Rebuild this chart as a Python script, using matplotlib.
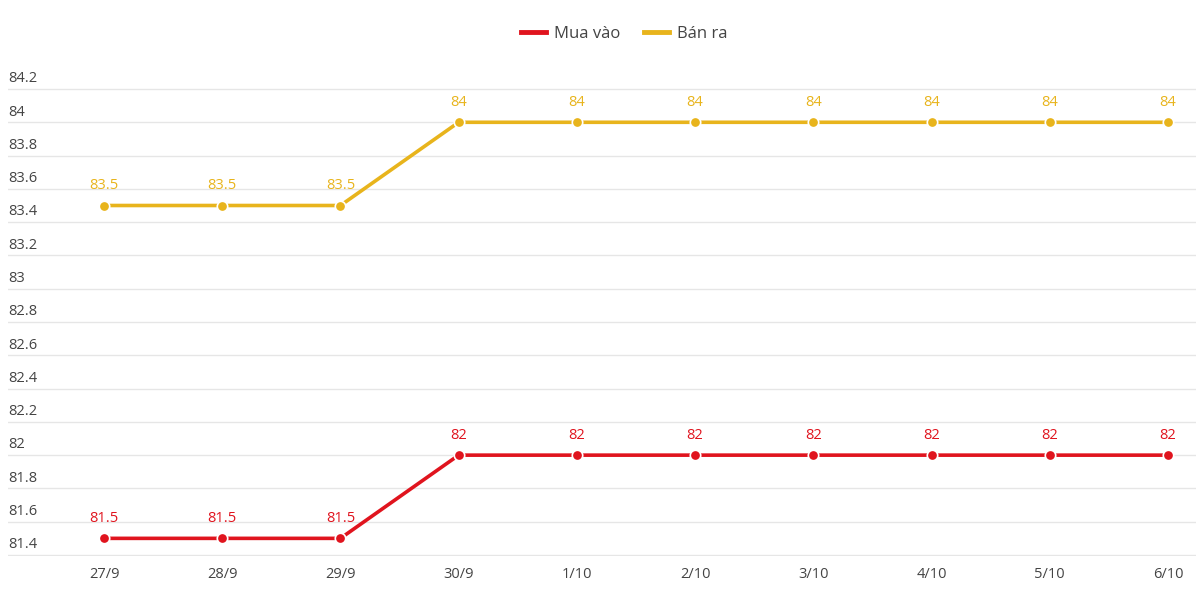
import matplotlib
matplotlib.use("Agg")
from matplotlib import pyplot as plt
from matplotlib import transforms
from matplotlib.lines import Line2D

dates = ["27/9", "28/9", "29/9", "30/9", "1/10", "2/10", "3/10", "4/10", "5/10", "6/10"]
mua_vao = [81.5, 81.5, 81.5, 82, 82, 82, 82, 82, 82, 82]
ban_ra = [83.5, 83.5, 83.5, 84, 84, 84, 84, 84, 84, 84]
y_ticks = [81.4, 81.6, 81.8, 82, 82.2, 82.4, 82.6, 82.8, 83, 83.2, 83.4, 83.6, 83.8, 84, 84.2]

RED = "#e0141e"
GOLD = "#e8b41c"
TEXT = "#444444"

plt.rcParams["font.family"] = ["Open Sans", "DejaVu Sans"]

W, H = 1196, 602
fig = plt.figure(figsize=(W / 100, H / 100), dpi=100)
ax = fig.add_axes([8 / W, (H - 556) / H, (1196 - 8) / W, (556 - 88) / H])

x = list(range(len(dates)))
for vals, color, label in [(mua_vao, RED, "Mua vào"), (ban_ra, GOLD, "Bán ra")]:
    ax.plot(x, vals, color=color, lw=2.6, label=label, zorder=3,
            marker="o", ms=7.5, mfc=color, mec="white", mew=1.2)
    for xi, v in zip(x, vals):
        ax.annotate(f"{v:g}", (xi, v), xytext=(0, 9), textcoords="offset points",
                    ha="center", va="bottom", color=color, fontsize=10.5)

# keep the outer gridlines fully visible
pad = 1 / 166.4
ax.set_xlim((8 - 104) / 118.22, (1196 - 104) / 118.22)
ax.set_ylim(81.4 - pad, 84.2 + pad)
ax.set_yticks(y_ticks)
ax.set_yticklabels([])
ax.tick_params(axis="y", length=0)
ax.grid(axis="y", color="#e6e6e6", lw=1, zorder=0)

trans = transforms.blended_transform_factory(ax.transAxes, ax.transData)
for t in y_ticks:
    ax.annotate(f"{t:g}", (0, t), xycoords=trans, xytext=(0, 2), textcoords="offset points",
                ha="left", va="bottom", color=TEXT, fontsize=10.5)

ax.set_xticks(x)
ax.set_xticklabels(dates, color=TEXT, fontsize=10.5)
ax.tick_params(axis="x", length=0, pad=8)

for s in ax.spines.values():
    s.set_visible(False)

leg_handles = [Line2D([0], [0], color=RED, lw=3.5), Line2D([0], [0], color=GOLD, lw=3.5)]
fig.legend(leg_handles, ["Mua vào", "Bán ra"], loc="center", bbox_to_anchor=(0.522, 1 - 34 / H),
           ncol=2, frameon=False, handlelength=1.5, handletextpad=0.5, columnspacing=1.4,
           labelcolor=TEXT, prop={"size": 12})

plt.savefig("out.png", dpi=100)
